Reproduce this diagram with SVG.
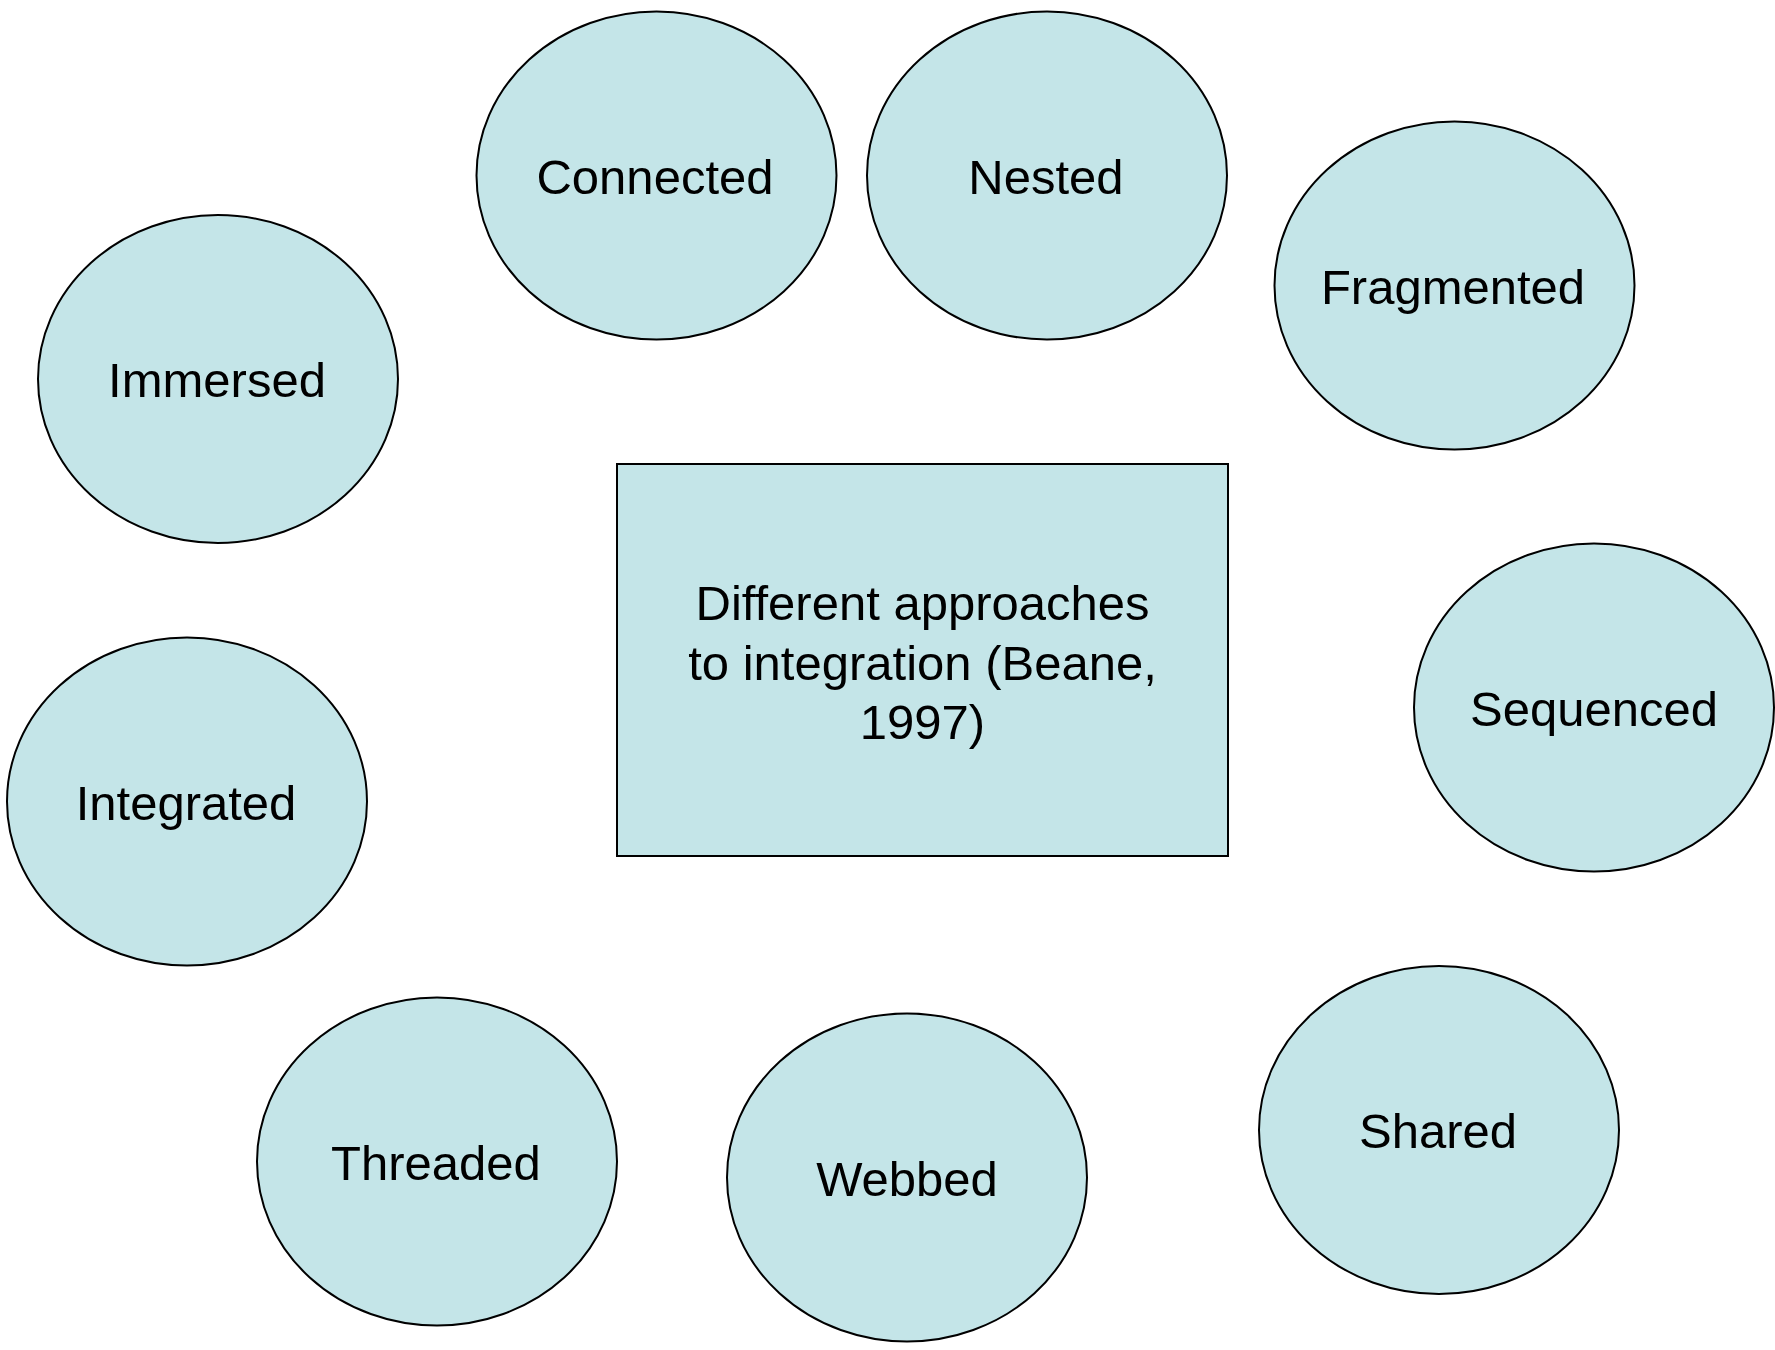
<svg xmlns="http://www.w3.org/2000/svg" width="1775" height="1350" viewBox="0 0 1775 1350">
<style>
.n{fill:#c4e5e8;stroke:#000;stroke-width:2}
.t{font-family:"Liberation Sans",Arial,sans-serif;font-size:49px;fill:#000;text-anchor:middle}
</style>
<rect x="0" y="0" width="1775" height="1350" fill="#fff"/>
<g id="center"><rect class="n" x="617" y="464" width="611" height="392"/>
<text class="t" x="922.5" y="620">Different approaches</text>
<text class="t" x="922.5" y="680">to integration (Beane,</text>
<text class="t" x="922.5" y="739">1997)</text></g>
<g id="connected"><ellipse class="n" cx="656.5" cy="175.5" rx="180" ry="164"/><text class="t" x="655" y="194">Connected</text></g>
<g id="nested"><ellipse class="n" cx="1047" cy="175.5" rx="180" ry="164"/><text class="t" x="1046" y="194">Nested</text></g>
<g id="fragmented"><ellipse class="n" cx="1454.5" cy="285.5" rx="180" ry="164"/><text class="t" x="1453" y="304">Fragmented</text></g>
<g id="immersed"><ellipse class="n" cx="218" cy="379" rx="180" ry="164"/><text class="t" x="217" y="397">Immersed</text></g>
<g id="integrated"><ellipse class="n" cx="187" cy="801.5" rx="180" ry="164"/><text class="t" x="186" y="820">Integrated</text></g>
<g id="sequenced"><ellipse class="n" cx="1594" cy="707.5" rx="180" ry="164"/><text class="t" x="1594" y="726">Sequenced</text></g>
<g id="shared"><ellipse class="n" cx="1439" cy="1130" rx="180" ry="164"/><text class="t" x="1438" y="1148">Shared</text></g>
<g id="webbed"><ellipse class="n" cx="907" cy="1177.5" rx="180" ry="164"/><text class="t" x="907" y="1196">Webbed</text></g>
<g id="threaded"><ellipse class="n" cx="437" cy="1161.5" rx="180" ry="164"/><text class="t" x="436" y="1180">Threaded</text></g>
<g id="connectors"></g>
</svg>
